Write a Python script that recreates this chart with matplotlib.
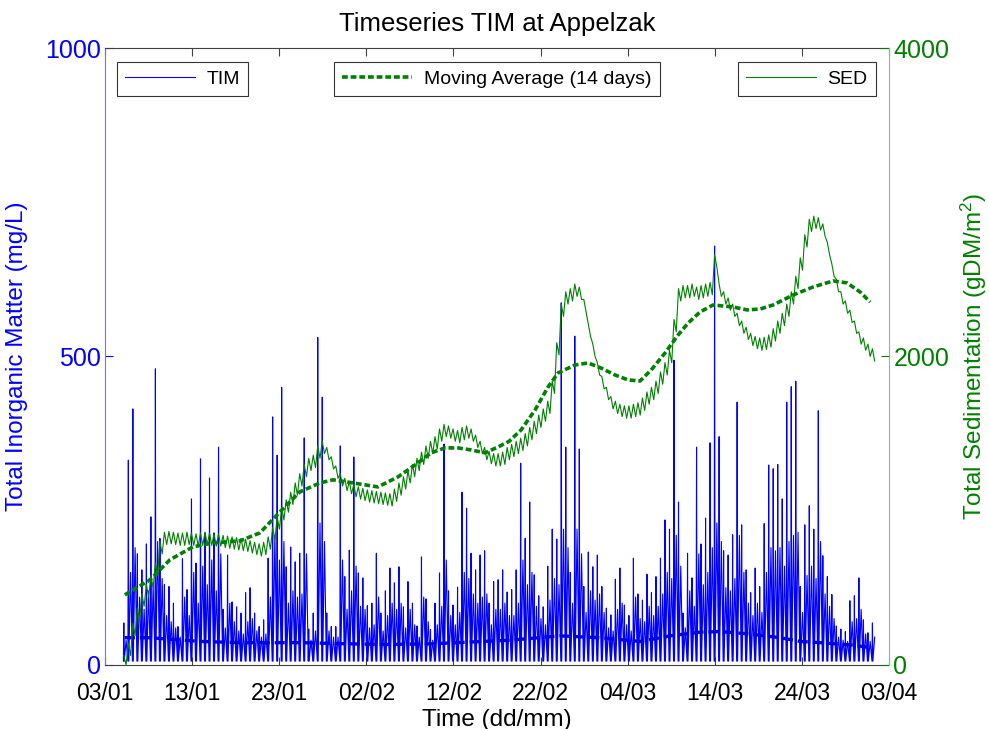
import numpy as np
import pandas as pd
import matplotlib
matplotlib.use("Agg")
import matplotlib.pyplot as plt
import matplotlib.dates as mdates

plt.rcParams["font.family"] = ["Liberation Sans", "DejaVu Sans"]
plt.rcParams["mathtext.default"] = "regular"

# time base: days counted from 03/01, one value per tide (12h25m)
START = pd.Timestamp("2011-01-03")
TIDE_START_DAY = 2.18
TIDE_PERIOD = 0.5175

# TIM flood peak for each tide (mg/L)
tim_peak = [
    68, 332, 415, 180, 154, 196, 240, 480, 205, 130,
    127, 100, 62, 172, 122, 269, 165, 334, 214, 303,
    214, 353, 90, 178, 102, 94, 84, 117, 125, 84,
    62, 73, 173, 402, 340, 450, 159, 191, 167, 181,
    368, 58, 84, 531, 434, 84, 62, 62, 355, 143,
    186, 337, 149, 141, 96, 100, 181, 84, 120, 157,
    133, 159, 94, 135, 100, 63, 175, 107, 57, 100,
    149, 358, 120, 97, 126, 280, 254, 181, 154, 178,
    185, 100, 135, 138, 154, 118, 122, 154, 327, 205,
    264, 146, 112, 94, 160, 220, 204, 587, 353, 150,
    533, 350, 127, 183, 159, 178, 127, 92, 81, 139,
    157, 97, 80, 173, 115, 105, 147, 117, 143, 173,
    235, 220, 494, 264, 84, 181, 141, 353, 196, 238,
    360, 679, 370, 185, 178, 211, 426, 227, 154, 117,
    157, 127, 229, 324, 318, 325, 269, 426, 451, 460,
    127, 227, 258, 220, 412, 177, 143, 114, 63, 58,
    54, 104, 112, 141, 73, 52, 68]

# TIM ebb peak for each tide (mg/L)
tim_ebb = [
    40, 150, 190, 110, 90, 120, 130, 200, 140, 80,
    70, 60, 45, 110, 80, 150, 100, 160, 130, 170,
    120, 180, 60, 100, 70, 55, 50, 70, 75, 55,
    45, 50, 110, 210, 170, 200, 100, 120, 110, 115,
    180, 40, 55, 230, 200, 55, 45, 45, 170, 90,
    120, 160, 95, 90, 60, 65, 110, 55, 80, 100,
    90, 100, 60, 90, 65, 45, 110, 70, 40, 65,
    95, 170, 80, 65, 85, 150, 140, 115, 100, 110,
    115, 65, 90, 90, 100, 80, 80, 100, 170, 130,
    150, 95, 75, 65, 105, 140, 130, 220, 190, 100,
    220, 180, 85, 120, 105, 115, 85, 60, 55, 90,
    100, 65, 55, 110, 75, 70, 95, 80, 95, 115,
    150, 140, 210, 160, 60, 120, 95, 180, 130, 150,
    190, 230, 200, 125, 120, 140, 210, 150, 100, 80,
    100, 85, 150, 190, 185, 190, 160, 200, 210, 215,
    85, 145, 160, 140, 200, 115, 95, 75, 45, 40,
    38, 70, 75, 90, 50, 38, 45]

# slack-water minimum
tim_trough = 6

# 14-day moving average of TIM
tim_ma_day = [2.30, 5.17, 8.04, 10.91, 15.50, 22.39, 31.57, 37.31, 41.91, 46.50, 52.24,
              56.83, 61.42, 64.87, 68.31, 70.61, 74.05, 77.50, 79.79, 82.09, 85.88, 87.83]
tim_ma = [44, 44, 41, 38, 36, 36, 33, 34, 37, 40, 47,
          44, 38, 47, 53, 54, 50, 44, 38, 36, 32, 28]

# total sedimentation, tide-mean value (gDM/m2)
sed_mean = [
    20, 100, 230, 330, 420, 480, 540, 620, 760, 820,
    825, 820, 815, 815, 820, 815, 810, 815, 820, 815,
    810, 810, 800, 795, 790, 785, 780, 775, 765, 755,
    745, 755, 790, 850, 920, 980, 1030, 1080, 1140, 1200,
    1260, 1300, 1320, 1380, 1410, 1370, 1310, 1250, 1200, 1170,
    1150, 1130, 1115, 1105, 1095, 1090, 1085, 1080, 1075, 1070,
    1100, 1140, 1180, 1220, 1260, 1300, 1340, 1380, 1410, 1440,
    1490, 1520, 1510, 1490, 1480, 1500, 1510, 1490, 1450, 1410,
    1370, 1345, 1330, 1330, 1340, 1370, 1390, 1410, 1430, 1460,
    1500, 1540, 1580, 1620, 1670, 1800, 2050, 2300, 2380, 2400,
    2430, 2410, 2330, 2170, 2040, 1920, 1830, 1760, 1700, 1670,
    1650, 1640, 1640, 1650, 1660, 1690, 1730, 1760, 1800, 1860,
    1920, 2000, 2200, 2400, 2420, 2420, 2430, 2410, 2420, 2430,
    2440, 2620, 2430, 2380, 2340, 2300, 2240, 2190, 2150, 2110,
    2090, 2080, 2085, 2100, 2140, 2190, 2240, 2300, 2380, 2480,
    2600, 2750, 2850, 2870, 2860, 2820, 2700, 2560, 2460, 2380,
    2320, 2260, 2190, 2120, 2080, 2040, 2010]
sed_tidal_range = 80

# 14-day moving average of SED
sed_ma_day = [2.30, 5.17, 7.46, 10.10, 12.40, 15.50, 17.80, 20.09, 22.39, 24.68, 26.18,
              28.47, 31.34, 33.64, 35.94, 37.43, 39.04, 40.53, 42.02, 43.63, 45.12,
              46.40, 47.76, 49.37, 50.86, 52.01, 53.96, 55.45, 56.95, 58.55, 60.05,
              61.42, 62.69, 64.29, 65.79, 66.94, 68.31, 69.80, 72.10, 73.71, 75.20,
              76.69, 78.99, 81.29, 83.58, 85.19, 86.68, 87.83]
sed_ma = [454, 551, 681, 765, 791, 804, 856, 992, 1122, 1180, 1200,
          1180, 1154, 1219, 1310, 1375, 1407, 1407, 1394, 1375, 1413,
          1450, 1523, 1653, 1802, 1893, 1945, 1958, 1925, 1880, 1848,
          1841, 1912, 2023, 2140, 2217, 2289, 2334, 2321, 2302, 2308,
          2334, 2399, 2451, 2490, 2477, 2418, 2353]

tick_days = list(range(0, 100, 10))


def to_dates(days):
    return START + pd.to_timedelta(np.asarray(days, dtype=float), unit="D")


# tidal signals: slack, flood peak, slack, ebb peak for every tide
P = TIDE_PERIOD
tim_t, tim_v, sed_t, sed_v = [], [], [], []
for i, pk in enumerate(tim_peak):
    t = TIDE_START_DAY + i * P
    tim_t += [t - 0.1 * P, t, t + 0.1 * P, t + 0.5 * P]
    tim_v += [tim_trough, pk, tim_trough, tim_ebb[i]]
    half = sed_tidal_range / 2
    sed_t += [t, t + 0.5 * P]
    sed_v += [sed_mean[i] + half, max(sed_mean[i] - half, 0)]

fig = plt.figure(figsize=(9.89, 7.29), dpi=100)
ax1 = fig.add_axes([0.106, 0.088, 0.793, 0.846])
ax2 = ax1.twinx()

blue = (0, 0, 1)
green = (0, 0.5, 0)

l_tim, = ax1.plot(to_dates(tim_t), tim_v, color=blue, lw=0.8)
ax1.plot(to_dates(tim_ma_day), tim_ma, color=(0, 0, 0.9), lw=2.4, ls=(0, (3, 1.5)))

l_sed, = ax2.plot(to_dates(sed_t), sed_v, color=green, lw=0.8)
l_ma, = ax2.plot(to_dates(sed_ma_day), sed_ma, color=green, lw=2.6, ls=(0, (1.6, 0.8)))

ax1.set_xlim(START, START + pd.Timedelta(days=90))
ax1.set_ylim(0, 1000)
ax2.set_ylim(0, 4000)
ax1.set_yticks([0, 500, 1000])
ax2.set_yticks([0, 2000, 4000])
ax1.set_xticks(to_dates(tick_days))
ax1.xaxis.set_major_formatter(mdates.DateFormatter("%d/%m"))

ax1.tick_params(axis="x", direction="in", top=True, length=6, labelsize=16.5,
                color="#404040", pad=12)
ax1.tick_params(axis="y", direction="in", length=6, labelsize=18, colors=blue, pad=3)
ax2.tick_params(axis="y", direction="in", length=6, labelsize=18, colors=green, pad=3)

for s in ["top", "bottom"]:
    ax1.spines[s].set_color("#404040")
    ax1.spines[s].set_linewidth(0.8)
ax1.spines["left"].set_color("#7070ff")
ax1.spines["right"].set_visible(False)
for s in ["left", "top", "bottom"]:
    ax2.spines[s].set_visible(False)
ax2.spines["right"].set_color("#80c080")

ax1.set_title("Timeseries TIM at Appelzak", fontsize=18.5, pad=12)
ax1.set_xlabel("Time (dd/mm)", fontsize=17.5, labelpad=3)
ax1.set_ylabel("Total Inorganic Matter (mg/L)", fontsize=17.5, color=blue, labelpad=12)
ax2.set_ylabel("Total Sedimentation (gDM/m$^2$)", fontsize=17.5, color=green, labelpad=7)

leg_kw = dict(fontsize=14, frameon=True, fancybox=False, borderaxespad=0,
              handlelength=3.6, handletextpad=0.6, borderpad=0.42)
leg1 = ax2.legend([l_tim], ["TIM"], loc="upper left",
                  bbox_to_anchor=(0.0153, 0.977), **leg_kw)
leg2 = ax2.legend([l_ma], ["Moving Average (14 days)"], loc="upper center",
                  bbox_to_anchor=(0.5, 0.977), **leg_kw)
leg3 = ax2.legend([l_sed], ["SED"], loc="upper right",
                  bbox_to_anchor=(0.983, 0.977), **leg_kw)
for leg in (leg1, leg2, leg3):
    leg.get_frame().set_edgecolor("black")
    leg.get_frame().set_linewidth(0.8)
ax2.add_artist(leg1)
ax2.add_artist(leg2)

fig.savefig("out.png", dpi=100)
